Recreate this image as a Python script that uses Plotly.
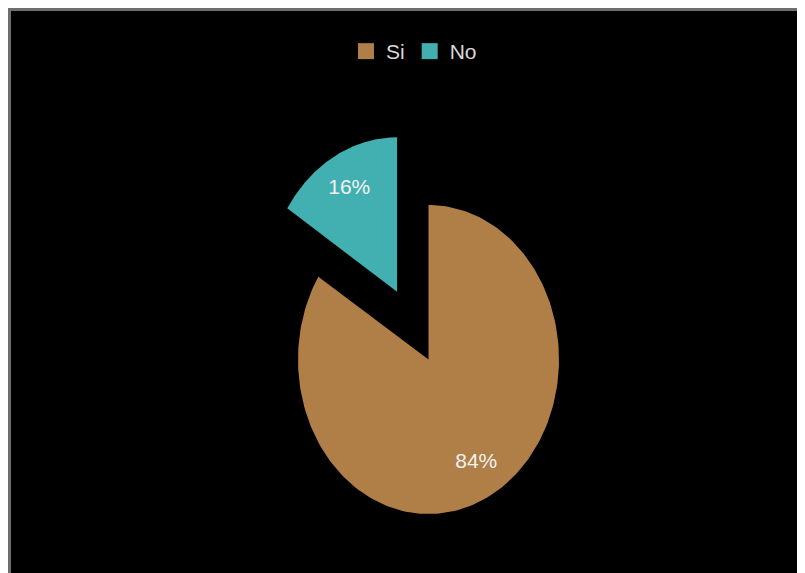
import numpy as np
import plotly.graph_objects as go

categories = ["Si", "No"]
values = [84, 16]
colors = ["#B07E47", "#42B0B1"]
pulls = [0.0, 0.5]
text_labels = ["84%", "16%"]

W, H = 805, 573
PAGE_OFFSET = 8  # default body margin of the html page
# pixel geometry of the (elliptical) pie, in figure pixels
cx_px, cy_px = 428.5 - PAGE_OFFSET, 359.5 - PAGE_OFFSET
rx_px, ry_px = 130.5, 154.5

x0 = -cx_px / rx_px
x1 = x0 + W / rx_px
y1 = cy_px / ry_px
y0 = y1 - H / ry_px

fig = go.Figure()

total = sum(values)
start = 0.0
label_x, label_y = [], []
for cat, val, col, pull in zip(categories, values, colors, pulls):
    span = 360.0 * val / total
    end = start + span
    mid = np.radians(start + span / 2)
    dx, dy = pull * np.sin(mid), pull * np.cos(mid)
    th = np.radians(np.linspace(start, end, 200))
    xs = np.concatenate([[dx], dx + np.sin(th), [dx]])
    ys = np.concatenate([[dy], dy + np.cos(th), [dy]])
    fig.add_trace(go.Scatter(x=xs, y=ys, mode="lines", fill="toself",
                             fillcolor=col, line=dict(width=0, color=col),
                             hoverinfo="skip", showlegend=False))
    label_x.append(dx + 0.76 * np.sin(mid))
    label_y.append(dy + 0.76 * np.cos(mid))
    start = end

fig.add_trace(go.Scatter(x=label_x, y=label_y, mode="text", text=text_labels,
                         textfont=dict(size=21, color="#F2F2F2",
                                       family="Liberation Sans Narrow, Liberation Sans, Arial"),
                         hoverinfo="skip", showlegend=False))

for cat, col in zip(categories, colors):
    fig.add_trace(go.Scatter(x=[None], y=[None], mode="markers", name=cat,
                             marker=dict(symbol="square", size=16, color=col)))

fig.update_layout(
    width=W, height=H,
    margin=dict(l=0, r=0, t=0, b=0),
    paper_bgcolor="white",
    plot_bgcolor="rgba(0,0,0,0)",
    xaxis=dict(range=[x0, x1], visible=False, fixedrange=True),
    yaxis=dict(range=[y0, y1], visible=False, fixedrange=True),
    showlegend=True,
    legend=dict(orientation="h", x=(414 - PAGE_OFFSET) / W, xanchor="center",
                y=1 - 23 / H, yanchor="top",
                bgcolor="rgba(0,0,0,0)", itemwidth=30, tracegroupgap=0,
                font=dict(size=21, color="#D9D9D9",
                          family="Liberation Sans Narrow, Liberation Sans, Arial")),
    shapes=[dict(type="rect", xref="paper", yref="paper", layer="below",
                 x0=1.5 / W, x1=1.05, y0=-0.05, y1=1 - 1.5 / H,
                 line=dict(color="#6E6E6E", width=3), fillcolor="black")],
)

fig.write_html("out.html")
